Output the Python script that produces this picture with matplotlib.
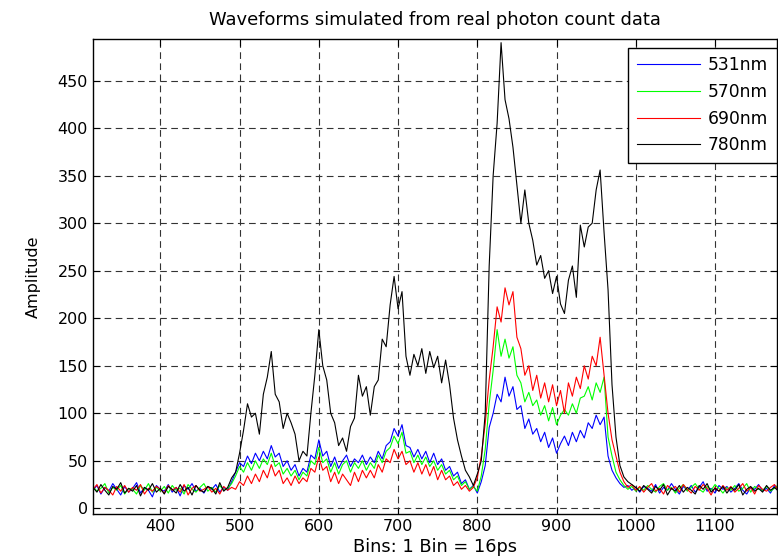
import numpy as np
import matplotlib
matplotlib.use("Agg")
import matplotlib.pyplot as plt

# bin positions (every 5th bin)
bins = np.arange(315, 1181, 5)

wave_531 = [
    19, 24, 15, 22, 18, 26, 20, 14, 23, 17,
    21, 27, 16, 22, 19, 12, 24, 20, 18, 25,
    17, 22, 13, 24, 20, 26, 18, 21, 16, 23,
    20, 25, 17, 22, 19, 28, 38, 48, 44, 55,
    47, 58, 50, 60, 52, 66, 54, 58, 44, 50,
    40, 46, 34, 42, 38, 56, 52, 72, 55, 60,
    44, 54, 42, 50, 56, 44, 52, 48, 56, 46,
    54, 48, 60, 52, 66, 70, 84, 76, 88, 66,
    64, 54, 62, 52, 60, 48, 58, 46, 52, 40,
    44, 34, 38, 26, 30, 20, 24, 16, 28, 45,
    85, 100, 120, 112, 138, 118, 128, 104, 108, 84,
    94, 78, 84, 70, 80, 64, 74, 58, 68, 76,
    66, 80, 70, 82, 74, 90, 84, 98, 88, 96,
    55, 40, 32, 26, 22, 24, 19, 22, 17, 23,
    21, 18, 25, 16, 22, 19, 26, 20, 15, 23,
    19, 24, 17, 22, 28, 18, 21, 16, 24, 20,
    23, 17, 21, 26, 19, 15, 22, 20, 25, 18,
    21, 16, 24, 19,
]

wave_570 = [
    23, 18, 21, 26, 16, 22, 19, 24, 15, 21,
    20, 15, 24, 19, 26, 17, 22, 18, 23, 16,
    24, 19, 21, 15, 25, 20, 17, 22, 26, 18,
    22, 17, 24, 19, 21, 26, 34, 44, 38, 48,
    40, 50, 42, 52, 46, 58, 44, 48, 36, 42,
    34, 40, 30, 38, 34, 50, 46, 64, 48, 52,
    38, 48, 36, 46, 50, 38, 48, 42, 50, 40,
    48, 42, 56, 48, 60, 64, 76, 68, 80, 58,
    60, 48, 56, 46, 54, 44, 50, 40, 46, 36,
    40, 30, 34, 24, 28, 20, 23, 18, 34, 62,
    110, 145, 188, 160, 178, 158, 170, 140, 132, 112,
    122, 108, 114, 98, 108, 92, 106, 88, 98, 104,
    98, 110, 100, 116, 118, 128, 114, 132, 122, 138,
    75, 55, 38, 30, 24, 20, 23, 18, 22, 19,
    24, 20, 17, 23, 26, 19, 22, 16, 21, 25,
    18, 22, 26, 20, 17, 23, 19, 25, 21, 16,
    22, 19, 24, 18, 21, 26, 17, 23, 20, 19,
    23, 18, 21, 25,
]

wave_690 = [
    20, 25, 16, 22, 19, 14, 23, 18, 24, 17,
    22, 19, 25, 15, 21, 18, 23, 20, 16, 24,
    19, 22, 17, 25, 14, 21, 24, 18, 20, 23,
    17, 21, 15, 23, 19, 22, 20, 28, 24, 34,
    26, 36, 28, 40, 32, 46, 34, 40, 26, 32,
    24, 34, 26, 32, 28, 42, 38, 54, 40, 44,
    28, 38, 26, 36, 30, 24, 38, 28, 40, 32,
    40, 32, 46, 38, 52, 48, 62, 52, 60, 46,
    50, 38, 48, 36, 46, 34, 44, 30, 40, 30,
    34, 24, 28, 20, 24, 18, 22, 32, 55, 89,
    135, 170, 212, 196, 232, 214, 228, 180, 168, 140,
    150, 124, 140, 116, 132, 112, 130, 108, 124, 100,
    132, 118, 138, 126, 150, 136, 160, 150, 180, 140,
    100, 72, 55, 38, 28, 22, 25, 19, 23, 17,
    22, 26, 18, 21, 15, 24, 20, 23, 17, 25,
    20, 16, 23, 19, 25, 21, 14, 22, 18, 24,
    19, 23, 17, 21, 26, 18, 22, 15, 24, 20,
    18, 22, 25, 19,
]

wave_780 = [
    22, 17, 25, 19, 14, 23, 20, 27, 16, 21,
    18, 24, 13, 22, 19, 26, 17, 21, 15, 23,
    20, 16, 25, 18, 22, 14, 24, 19, 17, 23,
    21, 15, 27, 18, 22, 32, 38, 58, 82, 110,
    96, 100, 78, 120, 138, 165, 120, 112, 84, 100,
    90, 78, 50, 60, 55, 100, 140, 188, 150, 135,
    100, 90, 66, 74, 60, 86, 95, 140, 118, 128,
    98, 128, 135, 178, 170, 214, 244, 210, 228, 160,
    140, 162, 150, 168, 142, 165, 148, 160, 132, 156,
    130, 95, 72, 55, 40, 33, 24, 36, 50, 100,
    255, 350, 405, 490, 430, 410, 380, 340, 300, 335,
    300, 282, 256, 266, 242, 250, 226, 244, 215, 205,
    240, 255, 222, 298, 275, 296, 300, 335, 356, 290,
    230, 130, 75, 45, 33, 28, 25, 22, 18, 24,
    20, 16, 23, 19, 25, 14, 21, 18, 24, 17,
    22, 19, 15, 24, 20, 26, 17, 21, 18, 23,
    16, 22, 19, 25, 14, 20, 23, 18, 21, 17,
    24, 19, 22, 18,
]

labels = ["531nm", "570nm", "690nm", "780nm"]
colors = ["#0000ff", "#00ff00", "#ff0000", "#000000"]

plt.rcParams['font.family'] = ['DejaVu Sans']

fig = plt.figure(figsize=(7.78, 5.59), dpi=100)
ax = fig.add_axes([0.1195, 0.0805, 0.879, 0.85])

for wave, lab, col in zip([wave_531, wave_570, wave_690, wave_780], labels, colors):
    ax.plot(bins, wave, color=col, linewidth=0.8, label=lab)

ax.set_xlim(315, 1178)
ax.set_ylim(-6, 494)
ax.set_xticks(np.arange(400, 1101, 100))
ax.set_yticks(np.arange(0, 451, 50))
ax.tick_params(direction='in', length=5, top=True, right=True, labelsize=11.5)
ax.grid(True, color='#333333', linestyle=(0, (6, 4)), linewidth=0.8)
for s in ax.spines.values():
    s.set_linewidth(1.0)

ax.set_title("Waveforms simulated from real photon count data", fontsize=12.9, pad=10)
ax.set_xlabel("Bins: 1 Bin = 16ps", fontsize=12.8, labelpad=3)
ax.set_ylabel("Amplitude", fontsize=11.5, labelpad=12)

leg = ax.legend(loc='upper right', bbox_to_anchor=(1.0, 0.981), fontsize=12.3,
                fancybox=False, framealpha=1, edgecolor='black',
                handlelength=3.7, borderpad=0.5, labelspacing=0.5,
                handletextpad=0.45, borderaxespad=0.0)
leg.get_frame().set_linewidth(1.0)

fig.savefig("out.png", dpi=100)
